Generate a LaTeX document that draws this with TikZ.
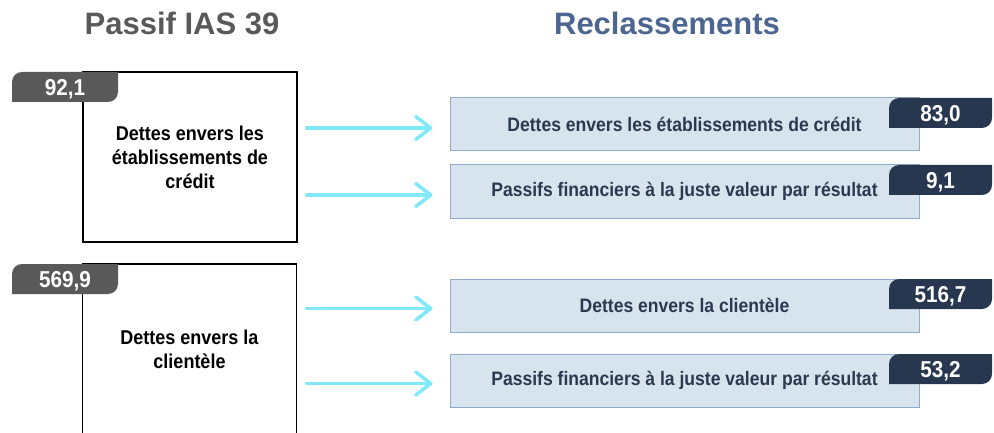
\documentclass[tikz,border=0pt]{standalone}
\usepackage{fontspec}
\setmainfont{Liberation Sans}
\newfontfamily\narrowfont[FakeStretch=0.9]{Liberation Sans}
\usetikzlibrary{calc, arrows.meta}

\definecolor{tabgray}{HTML}{595959}
\definecolor{tabnavy}{HTML}{283750}
\definecolor{titleblue}{HTML}{4C6691}
\definecolor{boxfill}{HTML}{D7E3ED}
\definecolor{boxline}{HTML}{8EAACC}
\definecolor{boxtext}{HTML}{2B3950}
\definecolor{flowcyan}{HTML}{80E8F9}

% value tab: name, left x, top y, width, colour, value
\newcommand{\valtab}[6]{%
  \fill[#5] (#2,-#3-30) -- (#2,-#3-10) arc[start angle=180, end angle=90, radius=10pt]
    -- (#2+#4,-#3) -- (#2+#4,-#3-20) arc[start angle=0, end angle=-90, radius=10pt] -- cycle;
  \node[val] (#1) at (#2+#4/2,-#3-17) {#6};
}

\begin{document}
\begin{tikzpicture}[x=1pt, y=1pt,
            title/.style={font=\fontsize{31}{36}\selectfont\bfseries},
            src/.style={draw=black, line width=1.6pt, minimum width=214pt,
                        minimum height=170pt, align=center,
                        font=\narrowfont\fontsize{20}{24}\selectfont\bfseries},
            tgt/.style={draw=boxline, fill=boxfill, line width=1pt,
                        minimum width=469pt, minimum height=53pt, text=boxtext,
                        font=\narrowfont\fontsize{19.5}{24}\selectfont\bfseries},
            val/.style={text=white, font=\narrowfont\fontsize{23}{24}\selectfont\bfseries},
            flow/.style={draw=flowcyan, line width=3.5pt, line cap=round,
                         -{Straight Barb[length=15pt, width=23pt, round]}}
        ]
        \useasboundingbox (0,0) rectangle (994,-433);

        % Titles
        \node[title, text=tabgray] (ttlL) at (182,-23) {Passif IAS 39};
        \node[title, text=titleblue] (ttlR) at (667,-23) {Reclassements};

        % Passif IAS 39
        \node[src] (src1) at (190,-157) {Dettes envers les\\établissements de\\crédit};
        \node[src] (src2) at (189.5,-349) {Dettes envers la\\clientèle};
        \valtab{v1}{12}{72}{106}{tabgray}{92,1}
        \valtab{v2}{12}{264}{106}{tabgray}{569,9}

        % Reclassements
        \node[tgt] (tgtA) at (684.5,-124.5) {Dettes envers les établissements de crédit};
        \node[tgt] (tgtB) at (684.5,-191.5) {Passifs financiers à la juste valeur par résultat};
        \node[tgt] (tgtC) at (684.5,-305.5) {Dettes envers la clientèle};
        \node[tgt] (tgtD) at (684.5,-380.5) {Passifs financiers à la juste valeur par résultat};
        \valtab{vA}{889}{98}{103}{tabnavy}{83,0}
        \valtab{vB}{889}{165}{103}{tabnavy}{9,1}
        \valtab{vC}{889}{279}{103}{tabnavy}{516,7}
        \valtab{vD}{889}{354}{103}{tabnavy}{53,2}

        % Arrows
        \draw[flow] ($(src1.east |- tgtA.west)+(9,-3.5)$) -- ($(tgtA.west)+(-17,-3.5)$);
        \draw[flow] ($(src1.east |- tgtB.west)+(9,-3.5)$) -- ($(tgtB.west)+(-17,-3.5)$);
        \draw[flow] ($(src2.east |- tgtC.west)+(9,-3)$) -- ($(tgtC.west)+(-17,-3)$);
        \draw[flow] ($(src2.east |- tgtD.west)+(9,-3)$) -- ($(tgtD.west)+(-17,-3)$);
        \end{tikzpicture}
\end{document}
